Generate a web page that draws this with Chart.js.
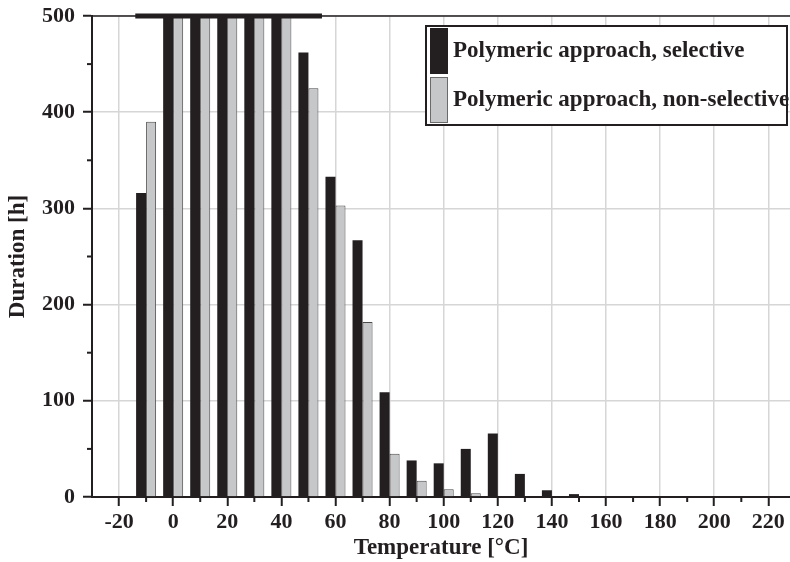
<!DOCTYPE html>
<html>
<head>
<meta charset="utf-8">
<script src="https://cdn.jsdelivr.net/npm/chart.js@4.4.1/dist/chart.umd.min.js"></script>
<style>
  html, body { margin: 0; padding: 0; background: #ffffff; }
  #wrap { width: 790px; height: 562px; position: relative; }
</style>
</head>
<body>
<div id="wrap"><canvas id="grafico"></canvas></div>
<script>
// dados do gráfico
const temperaturas = [-10, 0, 10, 20, 30, 40, 50, 60, 70, 80, 90, 100, 110, 120, 130, 140, 150];
const seletivo = [316, 600, 600, 600, 600, 600, 462, 333, 267, 109, 38, 35, 50, 66, 24, 7, 3];
const naoSeletivo = [390, 600, 600, 600, 600, 600, 425, 303, 182, 45, 17, 8, 4, null, null, null, null];
const nomesSeries = ['Polymeric approach, selective', 'Polymeric approach, non-selective'];
const ticksX = [-20, 0, 20, 40, 60, 80, 100, 120, 140, 160, 180, 200, 220];
const ticksY = [0, 100, 200, 300, 400, 500];
const minorX = [-10, 10, 30, 50, 70, 90, 110, 130, 150, 170, 190, 210];
const minorY = [50, 150, 250, 350, 450];
// faixa cortada no topo (barras acima de 500)
const faixaCorte = [{ x: -14, y: 500 }, { x: 55, y: 500 }];

const PRETO = '#231f20';
const CINZA = '#c6c7c9';
const FONTE = "'Liberation Serif', 'Times New Roman', serif";

const pontos = (vals) => temperaturas.map((t, i) => ({ x: t, y: vals[i] }));

// ticks menores, borda de cima e legenda
const pluginExtras = {
    id: 'extras',
    afterDatasetsDraw(chart) {
        const { ctx, chartArea, scales } = chart;
        ctx.save();
        ctx.strokeStyle = PRETO;
        ctx.lineWidth = 1.5;
        ctx.beginPath();
        ctx.moveTo(chartArea.left, chartArea.top);
        ctx.lineTo(chart.width, chartArea.top);
        ctx.stroke();

        ctx.lineWidth = 2;
        minorX.forEach(v => {
            const px = scales.x.getPixelForValue(v);
            ctx.beginPath();
            ctx.moveTo(px, chartArea.bottom);
            ctx.lineTo(px, chartArea.bottom + 5);
            ctx.stroke();
        });
        minorY.forEach(v => {
            const py = scales.y.getPixelForValue(v);
            ctx.beginPath();
            ctx.moveTo(chartArea.left, py);
            ctx.lineTo(chartArea.left - 5, py);
            ctx.stroke();
        });
        ctx.restore();
    },
    afterDraw(chart) {
        const { ctx } = chart;
        ctx.save();
        ctx.fillStyle = '#ffffff';
        ctx.fillRect(426, 26, 361, 99);
        ctx.strokeStyle = PRETO;
        ctx.lineWidth = 2;
        ctx.strokeRect(426, 26, 361, 99);

        const cores = [PRETO, CINZA];
        nomesSeries.forEach((nome, i) => {
            const y0 = 28 + i * 49;
            ctx.fillStyle = cores[i];
            ctx.fillRect(430, y0, 18, 46);
            if (i === 1) {
                ctx.strokeStyle = '#6a6a6a';
                ctx.lineWidth = 1;
                ctx.strokeRect(430.5, y0 + 0.5, 17, 45);
            }
            ctx.fillStyle = PRETO;
            ctx.font = 'bold 23px ' + FONTE;
            ctx.textBaseline = 'middle';
            ctx.textAlign = 'left';
            ctx.fillText(nome, 453, y0 + 23);
        });
        ctx.restore();
    }
};

const ctx = document.getElementById('grafico');
new Chart(ctx, {
    type: 'bar',
    data: {
        datasets: [
            {
                label: nomesSeries[0],
                data: pontos(seletivo),
                backgroundColor: PRETO,
                borderColor: PRETO,
                borderWidth: 0,
                categoryPercentage: 0.74,
                barPercentage: 1,
                clip: 0,
                order: 1
            },
            {
                label: nomesSeries[1],
                data: pontos(naoSeletivo),
                backgroundColor: CINZA,
                borderColor: '#4a4a4a',
                borderWidth: 1,
                categoryPercentage: 0.74,
                barPercentage: 1,
                clip: 0,
                order: 1
            },
            {
                type: 'line',
                label: 'corte',
                data: faixaCorte,
                borderColor: PRETO,
                borderWidth: 5,
                pointRadius: 0,
                borderCapStyle: 'butt',
                clip: false,
                order: 0
            }
        ]
    },
    options: {
        responsive: true,
        maintainAspectRatio: false,
        animation: false,
        layout: { padding: { top: 16, right: 0, left: 0, bottom: 0 } },
        plugins: {
            legend: { display: false },
            tooltip: { enabled: false }
        },
        scales: {
            x: {
                type: 'linear',
                min: -30,
                max: 228,
                offset: false,
                afterBuildTicks(scale) {
                    scale.ticks = ticksX.map(v => ({ value: v }));
                },
                afterFit(scale) {
                    scale.height = 65;
                    scale.paddingLeft = 0;
                    scale.paddingRight = 0;
                },
                grid: {
                    color: '#d6d6d6',
                    lineWidth: 1.5,
                    tickColor: PRETO,
                    tickWidth: 2,
                    tickLength: 9,
                    offset: false
                },
                border: { color: PRETO, width: 2 },
                ticks: {
                    color: PRETO,
                    padding: 3,
                    maxRotation: 0,
                    font: { family: FONTE, size: 22, weight: 'bold' }
                },
                title: {
                    display: true,
                    text: 'Temperature [°C]',
                    color: PRETO,
                    padding: 0,
                    font: { family: FONTE, size: 23, weight: 'bold' }
                }
            },
            y: {
                min: 0,
                max: 500,
                afterBuildTicks(scale) {
                    scale.ticks = ticksY.map(v => ({ value: v }));
                },
                afterFit(scale) {
                    scale.width = 92;
                    scale.paddingTop = 0;
                    scale.paddingBottom = 0;
                },
                grid: {
                    color: '#d6d6d6',
                    lineWidth: 1.5,
                    tickColor: PRETO,
                    tickWidth: 2,
                    tickLength: 9
                },
                border: { color: PRETO, width: 2 },
                ticks: {
                    color: PRETO,
                    padding: 8,
                    font: { family: FONTE, size: 22, weight: 'bold' }
                },
                title: {
                    display: true,
                    text: 'Duration [h]',
                    color: PRETO,
                    padding: { top: 4, bottom: 0 },
                    font: { family: FONTE, size: 23, weight: 'bold' }
                }
            }
        }
    },
    plugins: [pluginExtras]
});
</script>
</body>
</html>
